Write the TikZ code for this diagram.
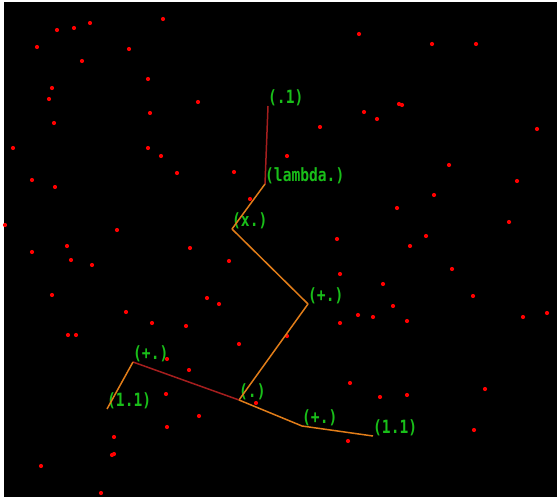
\documentclass[tikz,border=0pt]{standalone}
\usepackage{fontspec}
\setmonofont{DejaVu Sans Mono}
\definecolor{termgreen}{RGB}{25,190,25}
\definecolor{edgeO}{RGB}{225,125,25}
\definecolor{edgeR}{RGB}{165,30,30}
\newcommand{\tallterm}[1]{\scalebox{1}[1.25]{#1}}
\tikzstyle{term}=[anchor=south west, inner sep=0pt, text=termgreen, font=\ttfamily\bfseries\fontsize{14.6}{16}\selectfont]
\tikzstyle{linkO}=[edgeO, line width=1.5pt]
\tikzstyle{linkR}=[edgeR, line width=1.5pt]

\begin{document}
\begin{tikzpicture}[x=1pt, y=-1pt]
	\useasboundingbox (0,0) rectangle (557,497);
	% Canvas
	\fill[white] (0,0) rectangle (557,497);
	\fill[black] (3.5,2) rectangle (557,497);

	% Scattered points
	\foreach \x/\y in {163/19, 57/30, 74/28, 90/23, 37/47, 129/49, 82/61, 148/79, 52/88, 49/99,
		198/102, 150/113, 54/123, 13/148, 148/148, 161/156, 177/173, 32/180, 55/187,
		359/34, 364/112, 377/119, 320/127, 287/156, 234/172, 250/199,
		432/44, 476/44, 399/104, 402/105, 537/129, 449/165, 517/181, 434/195,
		5/225, 32/252, 67/246, 71/260, 92/265, 117/230, 52/295, 126/312, 152/323, 186/326,
		68/335, 76/335, 190/248,
		229/261, 207/298, 219/304, 337/239, 340/274, 358/315, 373/317, 340/323, 287/336, 239/344,
		397/208, 509/222, 426/236, 410/246, 452/269, 383/284, 473/296, 393/306, 407/321, 523/317, 547/313,
		167/359, 189/370, 166/394, 199/416, 167/427, 114/437, 112/455, 114/454, 41/466, 101/493, 256/403,
		350/383, 380/397, 407/395, 485/389, 474/430, 348/441}{
		\fill[red] (\x,\y) circle (2.1pt);
	}

	% Terms
	\node[term] (one)    at (268,106) {\tallterm{(.1)}};
	\node[term] (lam)    at (265,184) {\tallterm{(lambda.)}};
	\node[term] (times)  at (232,229) {\tallterm{(x.)}};
	\node[term] (plusA)  at (308,304) {\tallterm{(+.)}};
	\node[term] (app)    at (239,400) {\tallterm{(.)}};
	\node[term] (plusL)  at (133,362) {\tallterm{(+.)}};
	\node[term] (pairL)  at (107,409) {\tallterm{(1.1)}};
	\node[term] (plusR)  at (302,426) {\tallterm{(+.)}};
	\node[term] (pairR)  at (373,436) {\tallterm{(1.1)}};

	\draw[linkR] (one.south west) -- (lam.south west);
	\draw[linkO] (lam.south west) -- (times.south west);
	\draw[linkO] (times.south west) -- (plusA.south west);
	\draw[linkO] (plusA.south west) -- (app.south west);
	\draw[linkR] (app.south west) -- (plusL.south west);
	\draw[linkO] (plusL.south west) -- (pairL.south west);
	\draw[linkO] (app.south west) -- (plusR.south west);
	\draw[linkO] (plusR.south west) -- (pairR.south west);
\end{tikzpicture}
\end{document}
